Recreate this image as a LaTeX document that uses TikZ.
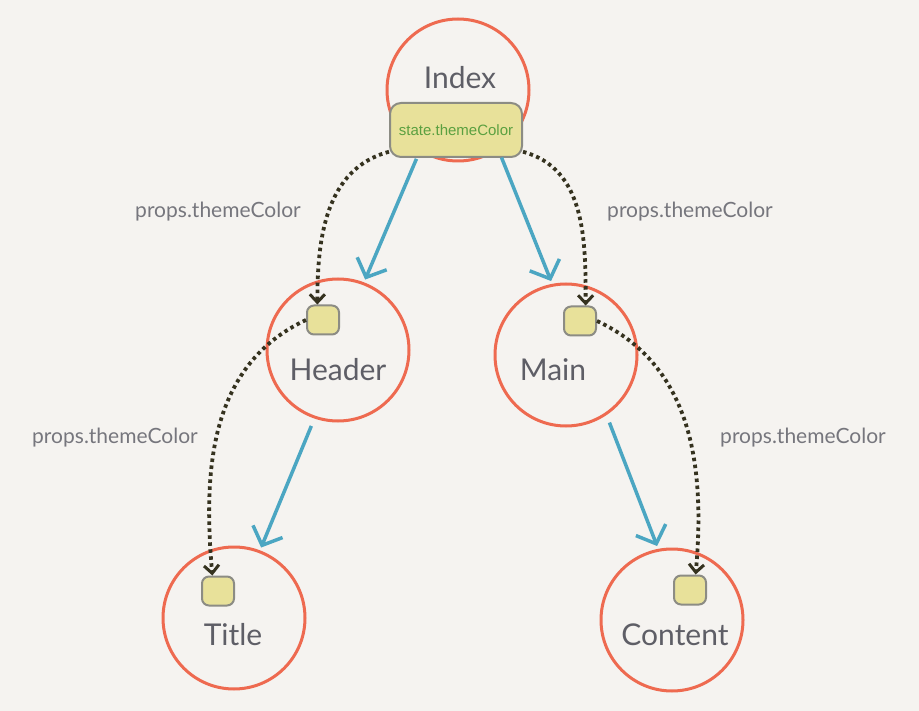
\documentclass[tikz,border=0pt]{standalone}
\usepackage{fontspec}
\setmainfont{Lato}
\newfontfamily\boxfont{Liberation Sans}
\usetikzlibrary{arrows.meta}
\definecolor{nen}{HTML}{F5F3F0}
\definecolor{vong}{HTML}{EE6A50}
\definecolor{xanh}{HTML}{4BA6C2}
\definecolor{cham}{HTML}{35321F}
\definecolor{hop}{HTML}{E8E19A}
\definecolor{vien}{HTML}{8C8C84}
\definecolor{chu}{HTML}{5E5E66}
\definecolor{luc}{HTML}{5BA040}
\begin{document}
\begin{tikzpicture}[x=1pt,y=-1pt,
  ring/.style={circle,draw=vong,line width=3pt,minimum size=142pt,inner sep=0pt},
  slot/.style={rectangle,rounded corners=7pt,fill=hop,draw=vien,line width=2pt,minimum width=32pt,minimum height=29pt,inner sep=0pt},
  compname/.style={text=chu,font=\fontsize{30}{36}\selectfont},
  proplbl/.style={text=chu!85,font=\fontsize{21}{25}\selectfont},
  flow/.style={draw=xanh,line width=3.5pt,shorten <=8pt,shorten >=3pt,-{Straight Barb[length=15pt,width=32pt]}},
  pass/.style={draw=cham,line width=3.8pt,dash pattern=on 3.5pt off 3.5pt,-{Straight Barb[length=8pt,width=15pt,line width=3pt]}}]
% nền
\fill[nen] (0,0) rectangle (919,711);
\useasboundingbox (0,0) rectangle (919,711);
% các vòng tròn
\foreach \n/\x/\y in {idx/458/90,hdr/338/350,main/566/355,ttl/234/618,cnt/672/620}
  \node[ring] (\n) at (\x,\y) {};
\node[compname] (idxname) at (460,78) {Index};
\node[compname] (hdrname) at (338,370) {Header};
\node[compname] (mainname) at (553,370) {Main};
\node[compname] (ttlname) at (233,635) {Title};
\node[compname] (cntname) at (675,635) {Content};
% các hộp
\node[slot,minimum width=132pt,minimum height=54pt,rounded corners=11pt,text=luc,font=\boxfont\fontsize{15}{18}\selectfont] (idxstate) at (456,130) {state.themeColor};
\foreach \n/\x/\y in {hdrbox/323/320,mainbox/580/321,ttlbox/218/591,cntbox/690/590}
  \node[slot] (\n) at (\x,\y) {};
% mũi tên xanh
\draw[flow] (idx.-122) -- (hdr.69);
\draw[flow] (idx.-56) -- (main.101);
\draw[flow] (hdr.-109) -- (ttl.69);
\draw[flow] (main.-56) -- (cnt.101);
% đường chấm
\draw[pass] (idxstate.198) to[out=195,in=90] (hdrbox.110);
\draw[pass] (idxstate.-18) to[out=-15,in=90] (mainbox.70);
\draw[pass] (hdrbox.west) to[out=205,in=95] (ttlbox.110);
\draw[pass] (mainbox.east) to[out=-25,in=85] (cntbox.70);
\node[proplbl] (lblhl) at (218,212) {props.themeColor};
\node[proplbl] (lblhr) at (690,212) {props.themeColor};
\node[proplbl] (lbltl) at (115,438) {props.themeColor};
\node[proplbl] (lbltr) at (803,438) {props.themeColor};
\end{tikzpicture}
\end{document}
